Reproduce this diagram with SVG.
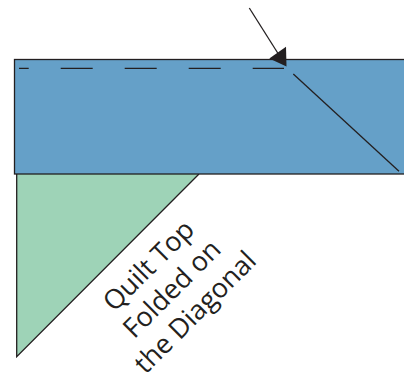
<svg xmlns="http://www.w3.org/2000/svg" width="404" height="372" viewBox="0 0 404 372">
<style>
.edge{stroke:#231f20;stroke-width:1.3;fill:none}
.lbl{font-family:"Open Sans","Liberation Sans",sans-serif;font-size:27px;fill:#231f20;text-anchor:middle}
</style>
<rect width="404" height="372" fill="#ffffff"/>
<g id="triangle">
<polygon points="16.7,174 199,174 16.7,356.7" fill="#9ed3b7"/>
<path class="edge" d="M199,174 L16.7,356.7 L16.7,174"/>
</g>
<g id="band">
<rect x="14.5" y="59.5" width="400" height="114.5" fill="#65a0c8" stroke="#231f20" stroke-width="1.3"/>
</g>
<g id="connectors">
<line class="edge" x1="19" y1="68.3" x2="284" y2="68.3" stroke-dasharray="32 32" stroke-dashoffset="22.3"/>
<line class="edge" x1="293.3" y1="74" x2="399" y2="171.3"/>
<line class="edge" x1="249.3" y1="8" x2="279" y2="55"/>
<polygon points="286.5,66.5 269.3,58.5 286,46.7" fill="#231f20"/>
</g>
<g id="label" transform="translate(172,289) rotate(-45)">
<text class="lbl" x="0" y="-24">Quilt Top</text>
<text class="lbl" x="0" y="9">Folded on</text>
<text class="lbl" x="0" y="42">the Diagonal</text>
</g>
</svg>
